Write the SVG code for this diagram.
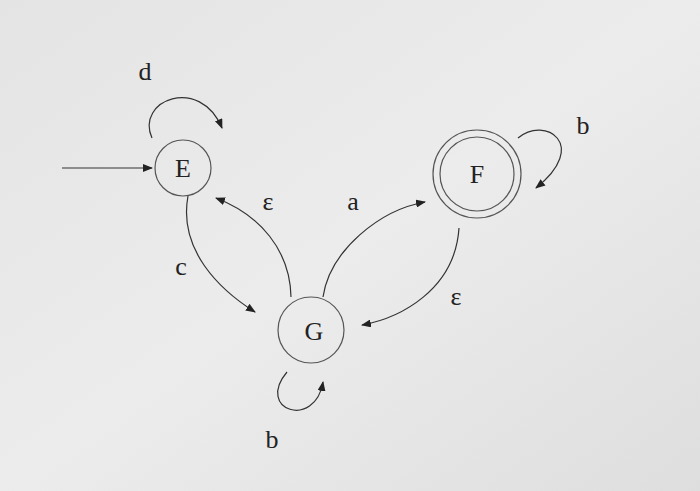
<svg xmlns="http://www.w3.org/2000/svg" width="700" height="491" viewBox="0 0 700 491">
<defs>
<marker id="ah" markerWidth="10" markerHeight="8" refX="9" refY="4" orient="auto" markerUnits="userSpaceOnUse"><path d="M0,0 L10,4 L0,8 Z" fill="#222"/></marker>
<linearGradient id="bg" x1="0" y1="0" x2="1" y2="1"><stop offset="0" stop-color="#e4e4e4"/><stop offset="0.5" stop-color="#ececec"/><stop offset="1" stop-color="#dedede"/></linearGradient>
</defs>
<style>
.n{fill:none;stroke:#555;stroke-width:1.2}
.e{fill:none;stroke:#333;stroke-width:1.2;marker-end:url(#ah)}
text{font-family:"Liberation Serif",serif;font-size:26px;fill:#222;text-anchor:middle}
</style>
<rect width="700" height="491" fill="url(#bg)"/>
<g id="connectors">
<path class="e" d="M62,168 L152,168"/>
<path class="e" d="M152,138 C135,100 200,75 222,128"/>
<path class="e" d="M188,196 C178,250 220,290 255,312"/>
<path class="e" d="M291,297 C290,250 260,215 216,198"/>
<path class="e" d="M323,297 C330,250 380,210 425,202"/>
<path class="e" d="M459,228 C455,290 400,318 362,325"/>
<path class="e" d="M518,138 C545,115 590,145 536,188"/>
<path class="e" d="M287,372 C255,410 315,430 323,382"/>
<text x="145" y="80">d</text>
<text x="181" y="275">c</text>
<text x="268" y="210">ε</text>
<text x="353" y="210">a</text>
<text x="456" y="305">ε</text>
<text x="583" y="134">b</text>
<text x="272" y="448">b</text>
</g>
<g id="E"><circle class="n" cx="183" cy="168" r="28"/><text x="183" y="177">E</text></g>
<g id="F"><circle class="n" cx="477" cy="174" r="44"/><circle class="n" cx="477" cy="174" r="37"/><text x="477" y="183">F</text></g>
<g id="G"><circle class="n" cx="311" cy="330" r="33"/><text x="314" y="340">G</text></g>
</svg>
